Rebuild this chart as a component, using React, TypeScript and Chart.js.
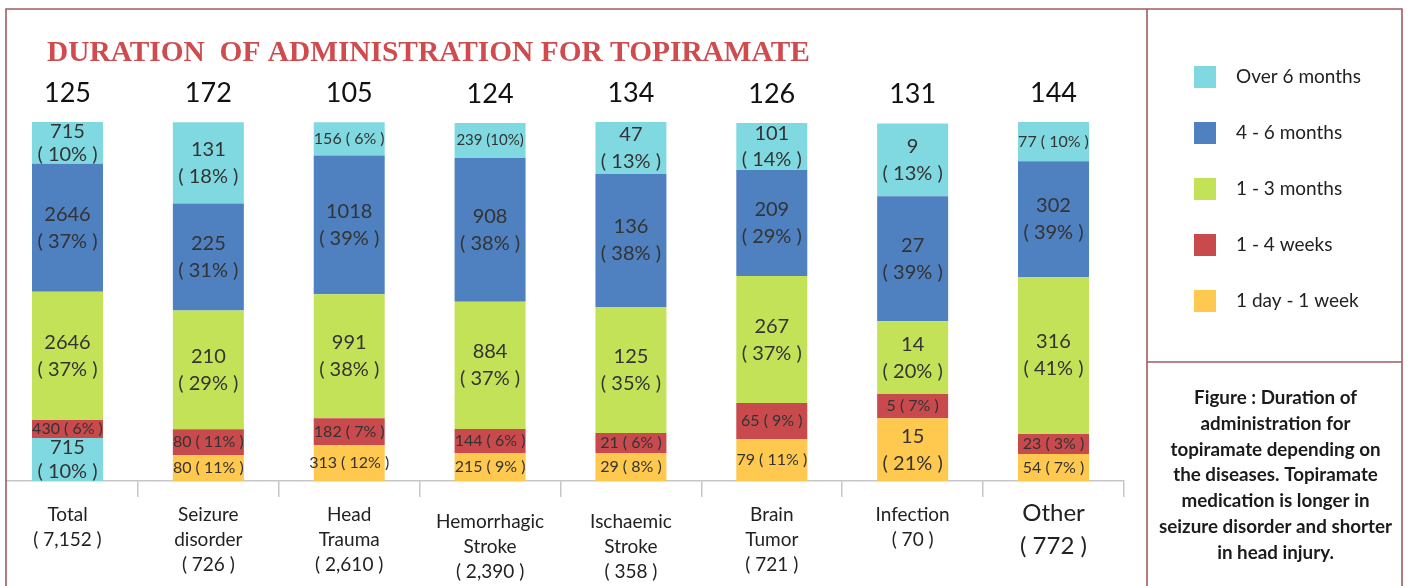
import React, { useEffect, useRef } from 'react';
import { Chart, registerables } from 'chart.js';

Chart.register(...registerables);

// ---------------- data ----------------
const categoryLines = [
  ['Total'],
  ['Seizure', 'disorder'],
  ['Head', 'Trauma'],
  ['Hemorrhagic', 'Stroke'],
  ['Ischaemic', 'Stroke'],
  ['Brain', 'Tumor'],
  ['Infection'],
  ['Other'],
];
const categoryCounts = ['7,152', '726', '2,610', '2,390', '358', '721', '70', '772'];
const barTotals = [125, 172, 105, 124, 134, 126, 131, 144];

const seriesNames = ['1 day - 1 week', '1 - 4 weeks', '1 - 3 months', '4 - 6 months', 'Over 6 months'];

// share of bar height (%), as drawn in the figure
const shareDay1Week = [12.0, 7.2, 10.0, 7.8, 7.8, 11.7, 17.5, 7.5];
const shareWeeks1to4 = [5.0, 7.2, 7.5, 6.7, 5.6, 10.0, 6.7, 5.6];
const shareMonths1to3 = [35.7, 33.1, 34.5, 35.4, 35.1, 35.4, 20.3, 43.7];
const shareMonths4to6 = [35.7, 29.8, 38.7, 40.1, 37.0, 29.5, 34.8, 32.3];
const shareOver6 = [11.6, 22.6, 9.2, 9.7, 14.5, 13.1, 20.3, 10.9];

// printed counts and percentages
const countDay1Week = [715, 80, 313, 215, 29, 79, 15, 54];
const countWeeks1to4 = [430, 80, 182, 144, 21, 65, 5, 23];
const countMonths1to3 = [2646, 210, 991, 884, 125, 267, 14, 316];
const countMonths4to6 = [2646, 225, 1018, 908, 136, 209, 27, 302];
const countOver6 = [715, 131, 156, 239, 47, 101, 9, 77];

const pctDay1Week = ['( 10% )', '( 11% )', '( 12% )', '( 9% )', '( 8% )', '( 11% )', '( 21% )', '( 7% )'];
const pctWeeks1to4 = ['( 6% )', '( 11% )', '( 7% )', '( 6% )', '( 6% )', '( 9% )', '( 7% )', '( 3% )'];
const pctMonths1to3 = ['( 37% )', '( 29% )', '( 38% )', '( 37% )', '( 35% )', '( 37% )', '( 20% )', '( 41% )'];
const pctMonths4to6 = ['( 37% )', '( 31% )', '( 39% )', '( 38% )', '( 38% )', '( 29% )', '( 39% )', '( 39% )'];
const pctOver6 = ['( 10% )', '( 18% )', '( 6% )', '(10%)', '( 13% )', '( 14% )', '( 13% )', '( 10% )'];

const titleText = 'DURATION  OF ADMINISTRATION FOR TOPIRAMATE';
const captionLines = [
  'Figure : Duration of',
  'administration for',
  'topiramate depending on',
  'the diseases. Topiramate',
  'medication is longer in',
  'seizure disorder and shorter',
  'in head injury.',
];

// ---------------- styles ----------------
const CYAN = '#80d9e1';
const BLUE = '#4f80c0';
const GREEN = '#c4e258';
const RED = '#c94a4c';
const YELLOW = '#ffc84f';
const seriesColors = [YELLOW, RED, GREEN, BLUE, CYAN];
const FRAME = '#a05c60';
const FONT = 'Lato';
const OX = 20; // canvas is shifted left by this many px
const CANVAS_W = 1428;
const CANVAS_H = 586;
const CAT_DY = [0, 0, 0, 7, 7, 0, 0, 0];
const CAT_FONT = [19, 19, 19, 19, 19, 19, 19, 24];
// label layout: true = two lines (count over percentage), false = one line
const TWO_LINE = [
  [true, false, false, false, false, false, true, false],
  [false, false, false, false, false, false, false, false],
  [true, true, true, true, true, true, true, true],
  [true, true, true, true, true, true, true, true],
  [true, true, false, false, true, true, true, false],
];

const seriesCounts = [countDay1Week, countWeeks1to4, countMonths1to3, countMonths4to6, countOver6];
const seriesPct = [pctDay1Week, pctWeeks1to4, pctMonths1to3, pctMonths4to6, pctOver6];
const seriesShares = [shareDay1Week, shareWeeks1to4, shareMonths1to3, shareMonths4to6, shareOver6];

const P = (x: number) => x + OX;

const segmentLabels = {
  id: 'segmentLabels',
  afterDatasetsDraw(chart: any) {
    const ctx = chart.ctx;
    ctx.save();
    ctx.textAlign = 'center';
    ctx.textBaseline = 'middle';
    ctx.fillStyle = '#333333';
    chart.data.datasets.forEach((_ds: any, di: number) => {
      const meta = chart.getDatasetMeta(di);
      meta.data.forEach((bar: any, j: number) => {
        const { x, y, base } = bar.getProps(['x', 'y', 'base'], true);
        const h = base - y;
        const cy = (y + base) / 2;
        const count = String(seriesCounts[di][j]);
        const pct = seriesPct[di][j];
        if (TWO_LINE[di][j]) {
          const gap = Math.min(27, h * 0.54);
          ctx.font = `20px ${FONT}`;
          ctx.fillText(count, x, cy - gap / 2);
          ctx.fillText(pct, x, cy + gap / 2);
        } else {
          ctx.font = pct.indexOf(' ') < 0 ? `15px ${FONT}` : `16px ${FONT}`;
          ctx.fillText(`${count} ${pct}`, x, cy);
        }
      });
    });
    ctx.restore();
  },
};

const decorations = {
  id: 'decorations',
  afterDraw(chart: any) {
    const ctx = chart.ctx;
    const xs = chart.scales.x;
    ctx.save();

    // blank out anything left of the frame
    ctx.fillStyle = '#ffffff';
    ctx.fillRect(0, 0, P(5.2), CANVAS_H);

    // frame
    ctx.strokeStyle = FRAME;
    ctx.lineWidth = 1.6;
    ctx.beginPath();
    ctx.moveTo(P(6), CANVAS_H);
    ctx.lineTo(P(6), 9);
    ctx.lineTo(P(1402), 9);
    ctx.lineTo(P(1402), CANVAS_H);
    ctx.moveTo(P(1147), 9);
    ctx.lineTo(P(1147), CANVAS_H);
    ctx.moveTo(P(1147), 362);
    ctx.lineTo(P(1402), 362);
    ctx.stroke();

    // title
    ctx.fillStyle = '#cf4b4e';
    ctx.font = `bold 29.4px "Liberation Serif"`;
    ctx.textAlign = 'left';
    ctx.textBaseline = 'alphabetic';
    ctx.fillText(titleText, P(47), 60.5);

    // totals above bars
    const topMeta = chart.getDatasetMeta(chart.data.datasets.length - 1);
    ctx.fillStyle = '#111111';
    ctx.font = `27px ${FONT}`;
    ctx.textAlign = 'center';
    ctx.textBaseline = 'middle';
    topMeta.data.forEach((bar: any, j: number) => {
      const { x, y } = bar.getProps(['x', 'y'], true);
      ctx.fillText(String(barTotals[j]), x, y - 29);
    });

    // category labels
    ctx.fillStyle = '#222222';
    categoryLines.forEach((lines, j) => {
      const x = xs.getPixelForValue(j);
      const fs = CAT_FONT[j];
      const lh = fs > 20 ? 33 : 25;
      const y0 = (fs > 20 ? 513 : 515) + CAT_DY[j];
      ctx.font = `${fs}px ${FONT}`;
      const all = [...lines, `( ${categoryCounts[j]} )`];
      all.forEach((t, k) => ctx.fillText(t, x, y0 + k * lh));
    });

    // legend
    const order = [...chart.data.datasets.keys()].reverse();
    ctx.font = `19px ${FONT}`;
    ctx.textAlign = 'left';
    order.forEach((di, k) => {
      const ds = chart.data.datasets[di];
      const cy = 77 + k * 56;
      ctx.fillStyle = seriesColors[di];
      ctx.fillRect(P(1194), cy - 11, 22, 22);
      ctx.fillStyle = '#222222';
      ctx.fillText(ds.label, P(1236), cy);
    });

    // caption
    ctx.font = `bold 18.8px ${FONT}`;
    ctx.textAlign = 'center';
    ctx.fillStyle = '#1b1b1b';
    captionLines.forEach((t, k) => ctx.fillText(t, P(1275.5), 398 + k * 25.8));

    ctx.restore();
  },
};

export default function App() {
  const ref = useRef<HTMLCanvasElement | null>(null);

  useEffect(() => {
    const canvas = ref.current;
    if (!canvas) return;
    const chart = new Chart(canvas, {
      type: 'bar',
      data: {
        labels: categoryLines.map((l) => l.join(' ')),
        datasets: seriesNames.map((name, i) => ({
          label: name,
          data: seriesShares[i],
          backgroundColor:
            i === 0
              ? (c: any) => (c.dataIndex === 0 ? CYAN : seriesColors[0])
              : seriesColors[i],
          borderWidth: 0,
          categoryPercentage: 0.504,
          barPercentage: 1,
        })),
      },
      options: {
        responsive: false,
        animation: false,
        devicePixelRatio: 1,
        layout: {
          padding: { left: 17.07, right: 284.07, top: 122, bottom: 89 },
        },
        plugins: {
          legend: { display: false },
          title: { display: false },
          tooltip: { enabled: false },
        },
        scales: {
          x: {
            stacked: true,
            ticks: { display: false },
            grid: {
              drawOnChartArea: false,
              drawTicks: true,
              tickLength: 16,
              color: '#c6c6c6',
              lineWidth: 1.5,
            },
            border: { display: true, color: '#c6c6c6', width: 1.5 },
          },
          y: {
            stacked: true,
            display: false,
            min: 0,
            max: 100,
          },
        },
      },
      plugins: [segmentLabels, decorations],
    });
    return () => chart.destroy();
  }, []);

  return (
    <div style={{ position: 'absolute', left: 0, top: 0, width: 1408, height: 586, overflow: 'hidden', background: '#ffffff' }}>
      <canvas
        ref={ref}
        width={CANVAS_W}
        height={CANVAS_H}
        style={{ position: 'absolute', left: -OX, top: 0, width: CANVAS_W, height: CANVAS_H }}
      />
    </div>
  );
}
